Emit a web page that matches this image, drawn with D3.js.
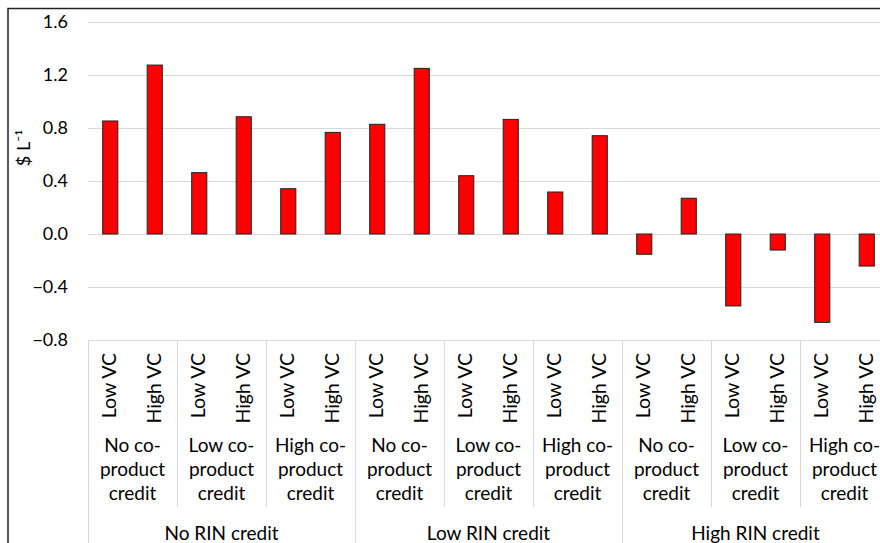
<!DOCTYPE html>
<html>
<head>
<meta charset="utf-8">
<script src="https://cdn.jsdelivr.net/npm/d3@7"></script>
<style>
  html, body { margin: 0; padding: 0; background: #fff; }
  svg { display: block; font-family: Lato, "Open Sans", sans-serif; }
</style>
</head>
<body>
<svg id="chart" width="880" height="543"></svg>
<script>
// Top-level grouping: RIN credit scenario
const rinGroups = ["No RIN credit", "Low RIN credit", "High RIN credit"];
// Middle grouping: co-product credit scenario (wrapped lines)
const coProductLabels = [
  ["No co-", "product", "credit"],
  ["Low co-", "product", "credit"],
  ["High co-", "product", "credit"]
];
// Innermost level: value-chain cost case
const vcLevels = ["Low VC", "High VC"];
// One value per bar, $ per litre, in category order
const values = [
  0.853, 1.275, 0.463, 0.885, 0.342, 0.767,
  0.828, 1.250, 0.440, 0.865, 0.317, 0.742,
  -0.153, 0.270, -0.543, -0.121, -0.667, -0.242
];
const yTicks = [-0.8, -0.4, 0.0, 0.4, 0.8, 1.2, 1.6];
const yTitle = "$ L\u207B\u00B9";

// Build flat category list from the three levels
const categories = [];
rinGroups.forEach((g, gi) => {
  coProductLabels.forEach((c, ci) => {
    vcLevels.forEach((v, vi) => {
      categories.push({ id: `${gi}-${ci}-${vi}`, g: gi, c: ci, vc: v });
    });
  });
});
const data = categories.map((d, i) => ({ ...d, value: values[i] }));

const svg = d3.select("#chart");
const plotLeft = 88, plotRight = 889;
const gridColor = "#d9d9d9";
const textColor = "#000";

const x = d3.scaleBand()
  .domain(data.map(d => d.id))
  .range([plotLeft, plotRight])
  .paddingInner(0.66)
  .paddingOuter(0.33);

const y = d3.scaleLinear()
  .domain([-0.8, 1.6])
  .range([340, 22]);

const fmt = d3.format(".1f");

// Outer chart frame
svg.append("rect")
  .attr("x", 8).attr("y", 8.5)
  .attr("width", 1000).attr("height", 1000)
  .attr("fill", "none")
  .attr("stroke", "#222")
  .attr("stroke-width", 1.5);

// Horizontal gridlines
svg.append("g").selectAll("line")
  .data(yTicks)
  .join("line")
  .attr("x1", plotLeft).attr("x2", 880)
  .attr("y1", d => Math.round(y(d)) + 0.5)
  .attr("y2", d => Math.round(y(d)) + 0.5)
  .attr("stroke", gridColor)
  .attr("stroke-width", 1);

// Y tick labels
svg.append("g").selectAll("text")
  .data(yTicks)
  .join("text")
  .attr("x", 68)
  .attr("y", d => y(d))
  .attr("dy", "0.35em")
  .attr("text-anchor", "end")
  .attr("font-size", 18)
  .attr("fill", textColor)
  .text(d => fmt(d));

// Y axis title
svg.append("text")
  .attr("transform", "translate(30,148) rotate(-90)")
  .attr("text-anchor", "middle")
  .attr("font-size", 18)
  .attr("fill", textColor)
  .text(yTitle);

// Bars
svg.append("g").selectAll("rect")
  .data(data)
  .join("rect")
  .attr("x", d => x(d.id))
  .attr("width", x.bandwidth())
  .attr("y", d => y(Math.max(0, d.value)))
  .attr("height", d => Math.abs(y(d.value) - y(0)))
  .attr("fill", "#ff0000")
  .attr("stroke", "#222")
  .attr("stroke-width", 1);

// Category axis: separators between subgroups and groups
const step = x.step();
const seps = d3.range(0, 10).map(k => ({ k, xPos: plotLeft + k * 2 * step }));
svg.append("g").selectAll("line")
  .data(seps)
  .join("line")
  .attr("x1", d => Math.round(d.xPos) + 0.5)
  .attr("x2", d => Math.round(d.xPos) + 0.5)
  .attr("y1", y(-0.8))
  .attr("y2", d => d.k % 3 === 0 ? 543 : 507)
  .attr("stroke", gridColor)
  .attr("stroke-width", 1);

// Innermost labels (rotated)
svg.append("g").selectAll("text")
  .data(data)
  .join("text")
  .attr("transform", d => `translate(${x(d.id) + x.bandwidth() / 2 + 6},353) rotate(-90)`)
  .attr("text-anchor", "end")
  .attr("font-size", 19.5)
  .attr("fill", textColor)
  .text(d => d.vc);

// Co-product labels
const subCenters = [];
rinGroups.forEach((g, gi) => coProductLabels.forEach((c, ci) => {
  subCenters.push({ lines: c, cx: plotLeft + (gi * 3 + ci + 0.5) * 2 * step });
}));
const sub = svg.append("g").selectAll("text")
  .data(subCenters)
  .join("text")
  .attr("text-anchor", "middle")
  .attr("font-size", 19)
  .attr("fill", textColor);
sub.selectAll("tspan")
  .data(d => d.lines.map((t, i) => ({ t, i, cx: d.cx })))
  .join("tspan")
  .attr("x", d => d.cx)
  .attr("y", d => 452 + d.i * 24)
  .text(d => d.t);

// RIN group labels
svg.append("g").selectAll("text")
  .data(rinGroups)
  .join("text")
  .attr("x", (d, i) => plotLeft + (i + 0.5) * 6 * step)
  .attr("y", 540)
  .attr("text-anchor", "middle")
  .attr("font-size", 19)
  .attr("fill", textColor)
  .text(d => d);
</script>
</body>
</html>
